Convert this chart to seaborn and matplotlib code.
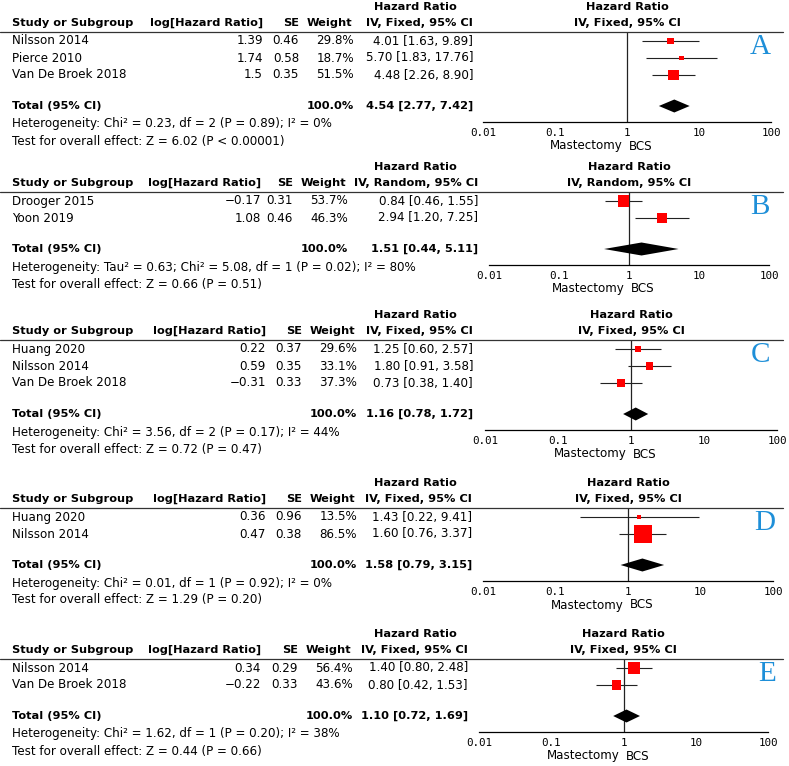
import matplotlib
matplotlib.use("Agg")
import matplotlib.pyplot as plt
from matplotlib.lines import Line2D
from matplotlib.ticker import NullLocator
import pandas as pd
import seaborn as sns

# -------------------------------------------------------------------
# data
# -------------------------------------------------------------------
PANELS = ["A", "B", "C", "D", "E"]
METHODS = [
    "IV, Fixed, 95% CI",
    "IV, Random, 95% CI",
    "IV, Fixed, 95% CI",
    "IV, Fixed, 95% CI",
    "IV, Fixed, 95% CI",
]
STUDIES = [
    ["Nilsson 2014", "Pierce 2010", "Van De Broek 2018"],
    ["Drooger 2015", "Yoon 2019"],
    ["Huang 2020", "Nilsson 2014", "Van De Broek 2018"],
    ["Huang 2020", "Nilsson 2014"],
    ["Nilsson 2014", "Van De Broek 2018"],
]
LOG_HR = [[1.39, 1.74, 1.5], [-0.17, 1.08], [0.22, 0.59, -0.31], [0.36, 0.47], [0.34, -0.22]]
SE = [[0.46, 0.58, 0.35], [0.31, 0.46], [0.37, 0.35, 0.33], [0.96, 0.38], [0.29, 0.33]]
WEIGHT = [[29.8, 18.7, 51.5], [53.7, 46.3], [29.6, 33.1, 37.3], [13.5, 86.5], [56.4, 43.6]]
HR = [[4.01, 5.70, 4.48], [0.84, 2.94], [1.25, 1.80, 0.73], [1.43, 1.60], [1.40, 0.80]]
CI_LOW = [[1.63, 1.83, 2.26], [0.46, 1.20], [0.60, 0.91, 0.38], [0.22, 0.76], [0.80, 0.42]]
CI_HIGH = [[9.89, 17.76, 8.90], [1.55, 7.25], [2.57, 3.58, 1.40], [9.41, 3.37], [2.48, 1.53]]
TOTAL_HR = [4.54, 1.51, 1.16, 1.58, 1.10]
TOTAL_LOW = [2.77, 0.44, 0.78, 0.79, 0.72]
TOTAL_HIGH = [7.42, 5.11, 1.72, 3.15, 1.69]
HETEROGENEITY = [
    "Heterogeneity: Chi² = 0.23, df = 2 (P = 0.89); I² = 0%",
    "Heterogeneity: Tau² = 0.63; Chi² = 5.08, df = 1 (P = 0.02); I² = 80%",
    "Heterogeneity: Chi² = 3.56, df = 2 (P = 0.17); I² = 44%",
    "Heterogeneity: Chi² = 0.01, df = 1 (P = 0.92); I² = 0%",
    "Heterogeneity: Chi² = 1.62, df = 1 (P = 0.20); I² = 38%",
]
OVERALL = [
    "Test for overall effect: Z = 6.02 (P < 0.00001)",
    "Test for overall effect: Z = 0.66 (P = 0.51)",
    "Test for overall effect: Z = 0.72 (P = 0.47)",
    "Test for overall effect: Z = 1.29 (P = 0.20)",
    "Test for overall effect: Z = 0.44 (P = 0.66)",
]
TICKS = [0.01, 0.1, 1, 10, 100]
TICK_LABELS = ["0.01", "0.1", "1", "10", "100"]
FAVOURS_LEFT = "Mastectomy"
FAVOURS_RIGHT = "BCS"

# -------------------------------------------------------------------
# layout (pixels, figure is 789 x 766)
# -------------------------------------------------------------------
W, H = 789, 766
PANEL_TOP = [7, 167, 315, 483, 634]
PLOT_SPAN = [(483, 771), (489, 769), (485, 777), (483, 773), (479, 768)]
LETTER_X = [760, 760, 760, 765, 767]
COL_LOG_X = [263, 261, 266, 266, 261]
COL_SE_X = [299, 293, 302, 302, 298]
COL_W_X = [354, 348, 357, 357, 353]
COL_HR_X = [473, 478, 473, 472, 468]
COL_STUDY, HR_HEAD_C = 12, 415
FS, FS_BOLD = 8.6, 8.2
LETTER_COLOR = "#1E8FD8"

sns.set_style("white")
plt.rcParams["font.family"] = ["DejaVu Sans"]
plt.rcParams["text.color"] = "black"
plt.rcParams["xtick.color"] = "black"
plt.rcParams["xtick.labelcolor"] = "black"

fig = plt.figure(figsize=(W / 100, H / 100), dpi=100)
fig.patch.set_facecolor("white")


def put(x, y, s, ha="left", bold=False, **kw):
    kw.setdefault("fontsize", FS_BOLD if bold else FS)
    fig.text(x / W, 1 - y / H, s, ha=ha, va="center",
             fontweight="bold" if bold else "normal", **kw)


def fmt_num(v, spec):
    return format(v, spec).replace("-", "\u2212")


for i, letter in enumerate(PANELS):
    y0 = PANEL_TOP[i]
    n = len(STUDIES[i])
    rows_y = [y0 + 34 + 17 * k for k in range(n)]
    y_line = y0 + 25
    y_total = y0 + 34 + 17 * n + 14
    y_axis = y_total + 16
    x_left, x_right = PLOT_SPAN[i]
    x_one = (x_left + x_right) / 2
    c_log, c_se, c_w, c_hr = COL_LOG_X[i], COL_SE_X[i], COL_W_X[i], COL_HR_X[i]

    # header
    put(HR_HEAD_C, y0, "Hazard Ratio", ha="center", bold=True)
    put(x_one, y0, "Hazard Ratio", ha="center", bold=True)
    put(COL_STUDY, y0 + 16, "Study or Subgroup", bold=True)
    put(c_log, y0 + 16, "log[Hazard Ratio]", ha="right", bold=True)
    put(c_se, y0 + 16, "SE", ha="right", bold=True)
    put(c_w - 2, y0 + 16, "Weight", ha="right", bold=True)
    put(c_hr, y0 + 16, METHODS[i], ha="right", bold=True)
    put(x_one, y0 + 16, METHODS[i], ha="center", bold=True)
    fig.add_artist(Line2D([0, 783 / W], [1 - y_line / H] * 2, color="#333333",
                          lw=0.9, transform=fig.transFigure))

    # study rows
    for k in range(n):
        y = rows_y[k]
        put(COL_STUDY, y, STUDIES[i][k])
        put(c_log, y, fmt_num(LOG_HR[i][k], "g"), ha="right")
        put(c_se, y, fmt_num(SE[i][k], ".2f"), ha="right")
        put(c_w, y, f"{WEIGHT[i][k]:.1f}%", ha="right")
        put(c_hr, y, f"{HR[i][k]:.2f} [{CI_LOW[i][k]:.2f}, {CI_HIGH[i][k]:.2f}]", ha="right")

    # total + notes
    put(COL_STUDY, y_total, "Total (95% CI)", bold=True)
    put(c_w, y_total, "100.0%", ha="right", bold=True)
    put(c_hr, y_total, f"{TOTAL_HR[i]:.2f} [{TOTAL_LOW[i]:.2f}, {TOTAL_HIGH[i]:.2f}]",
        ha="right", bold=True)
    put(COL_STUDY, y_total + 18, HETEROGENEITY[i])
    put(COL_STUDY, y_total + 35, OVERALL[i])

    # forest axes: x on log scale, y in pixel rows
    ax = fig.add_axes([x_left / W, 1 - y_axis / H, (x_right - x_left) / W, (y_axis - y_line) / H])
    ax.set_facecolor("none")
    ax.set_xscale("log")
    ax.set_xlim(0.01, 100)
    ax.set_ylim(y_axis, y_line)
    ax.axvline(1, color="#222222", lw=0.9, zorder=1)

    df = pd.DataFrame({"hr": HR[i], "lo": CI_LOW[i], "hi": CI_HIGH[i],
                       "w": WEIGHT[i], "y": rows_y})
    ax.hlines(df["y"], df["lo"], df["hi"], color="#222222", lw=0.8, zorder=2)
    side = 0.19 * df["w"] + 1.2
    sns.scatterplot(data=df, x="hr", y="y", marker="s", s=(side * 0.72) ** 2,
                    color="red", linewidth=0, ax=ax, zorder=3, legend=False)
    ax.fill([TOTAL_LOW[i], TOTAL_HR[i], TOTAL_HIGH[i], TOTAL_HR[i]],
            [y_total, y_total - 6.5, y_total, y_total + 6.5],
            color="black", lw=0, zorder=3, clip_on=False)

    for s in ["top", "left", "right"]:
        ax.spines[s].set_visible(False)
    ax.spines["bottom"].set_linewidth(0.9)
    ax.spines["bottom"].set_color("black")
    ax.set_yticks([])
    ax.set_xticks(TICKS)
    ax.set_xticklabels(TICK_LABELS, fontfamily="DejaVu Sans Mono", fontsize=7.8)
    ax.xaxis.set_minor_locator(NullLocator())
    ax.tick_params(axis="x", direction="inout", length=6, width=0.9, pad=1, color="black")
    ax.set_xlabel("")
    ax.set_ylabel("")

    put(x_one - 4, y_axis + 24, FAVOURS_LEFT, ha="right")
    put(x_one + 2, y_axis + 24, FAVOURS_RIGHT, ha="left")

    put(LETTER_X[i], y0 + 40, letter, ha="center", fontsize=21,
        family="Liberation Serif", color=LETTER_COLOR)

fig.savefig("out.png", dpi=100, facecolor="white")
